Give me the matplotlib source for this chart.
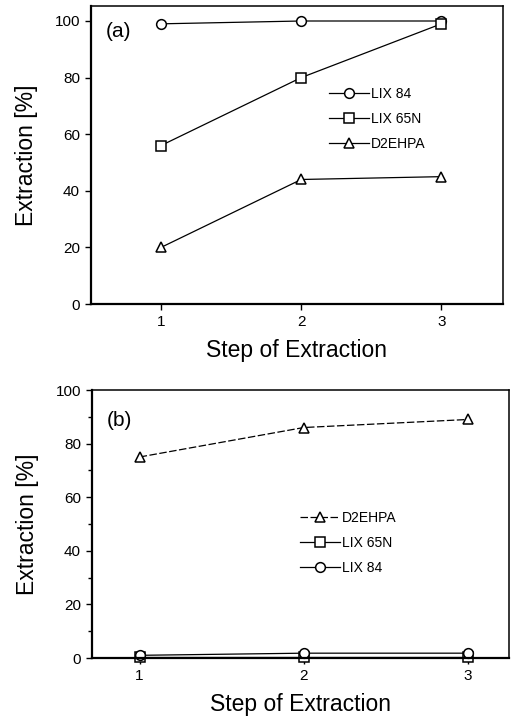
import matplotlib
matplotlib.use("Agg")
import matplotlib.pyplot as plt
from matplotlib.ticker import MultipleLocator

plt.rcParams['font.family'] = ['Liberation Sans', 'DejaVu Sans']

steps = [1, 2, 3]
# panel (a)
a_lix84 = [99, 100, 100]
a_lix65n = [56, 80, 99]
a_d2ehpa = [20, 44, 45]
# panel (b)
b_d2ehpa = [75, 86, 89]
b_lix65n = [0.3, 0.3, 0.3]
b_lix84 = [1.0, 1.8, 1.8]

yticks = [0, 20, 40, 60, 80, 100]
xticks = [1, 2, 3]

fig = plt.figure(figsize=(5.11, 7.18), dpi=100)
axa = fig.add_axes([91/511, 1-304/718, 412/511, 298/718])
axb = fig.add_axes([92/511, 1-658/718, 417/511, 268/718])

mk = dict(color='black', lw=0.9, markerfacecolor='white', markeredgecolor='black',
          markersize=7, markeredgewidth=1.1, clip_on=False)

axa.plot(steps, a_lix84, marker='o', label='LIX 84', **mk)
axa.plot(steps, a_lix65n, marker='s', label='LIX 65N', **mk)
axa.plot(steps, a_d2ehpa, marker='^', label='D2EHPA', **mk)
axa.set_xlim(0.5, 3.44)
axa.set_ylim(0, 105.3)

axb.plot(steps, b_d2ehpa, marker='^', ls=(0, (6, 2)), label='D2EHPA', **mk)
axb.plot(steps, b_lix65n, marker='s', label='LIX 65N', **mk)
axb.plot(steps, b_lix84, marker='o', label='LIX 84', **mk)
axb.set_xlim(0.71, 3.25)
axb.set_ylim(0, 100)
axb.yaxis.set_minor_locator(MultipleLocator(10))

for ax in (axa, axb):
    ax.set_xticks(xticks)
    ax.set_yticks(yticks)
    ax.tick_params(direction='out', length=4, width=1, labelsize=11, pad=4)
    ax.tick_params(which='minor', direction='out', length=3, width=1)
    ax.set_xlabel('Step of Extraction', fontsize=16.5, labelpad=7)
    ax.set_ylabel('Extraction [%]', fontsize=16.5, labelpad=12)
    for s in ax.spines.values():
        s.set_linewidth(1.1)
    ax.spines['bottom'].set_linewidth(1.6)
    ax.spines['left'].set_linewidth(1.6)

axa.text(0.035, 0.915, '(a)', transform=axa.transAxes, fontsize=15, va='center')
axb.text(0.035, 0.885, '(b)', transform=axb.transAxes, fontsize=15, va='center')

leg_kw = dict(frameon=False, fontsize=10, handlelength=2.9, handletextpad=0.1,
              labelspacing=0.8, borderpad=0, borderaxespad=0)
axa.legend(loc='upper left', bbox_to_anchor=((329-91)/412, (304-87)/298), **leg_kw)
axb.legend(loc='upper left', bbox_to_anchor=((300-92)/417, (658-511)/268), **leg_kw)

fig.savefig('out.png', dpi=100)
